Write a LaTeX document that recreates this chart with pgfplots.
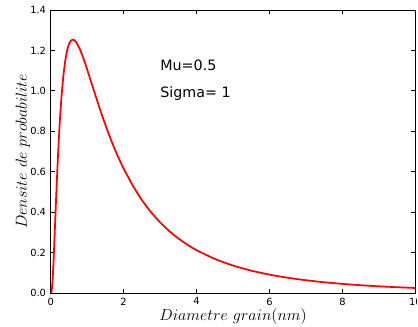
\documentclass[border=0pt]{standalone}
\usepackage{fontspec}
\setmainfont{DejaVu Sans}
\usepackage{pgfplots}
\pgfplotsset{compat=1.18}
\begin{document}
\begin{tikzpicture}
\useasboundingbox (0,0) rectangle (313.5pt,245.25pt);
\clip (0,0) rectangle (312.4pt,245.25pt);
\begin{axis}[
 at={(38.0pt,25.5pt)}, anchor=south west,
 scale only axis, width=273.6pt, height=212.25pt,
 xmin=0, xmax=10, ymin=0, ymax=1.4,
 xtick={0,2,4,6,8,10}, ytick={0,0.2,0.4,0.6,0.8,1.0,1.2,1.4},
 tick align=inside, major tick length=3pt, tick pos=both,
 /pgf/number format/assume math mode=true,
 yticklabel style={/pgf/number format/fixed, /pgf/number format/fixed zerofill, /pgf/number format/precision=1},
 tick label style={font=\fontsize{7.4}{8}\selectfont, text=black},
 xlabel={$Diametre\ grain(nm)$}, ylabel={$Densite\ de\ probabilite$},
 every axis x label/.style={at={(axis description cs:0.5,-0.098)}, anchor=base, font=\fontsize{12.2}{14}\selectfont},
 every axis y label/.style={at={(axis description cs:-0.065,0.5)}, anchor=base, rotate=90, font=\fontsize{12.4}{14}\selectfont},
 axis line style={line width=0.7pt},
 every tick/.style={black, line width=0.6pt},
]
\addplot[red, line width=1.3pt, smooth, tension=0.3] coordinates {
(0,0) (0.02,0.0037) (0.03,0.0137) (0.05,0.0557) (0.075,0.141) (0.1,0.2469) (0.15,0.4723) (0.2,0.6774) (0.25,0.8462) (0.3,0.9780) (0.35,1.0775) (0.4,1.1493) (0.45,1.1988) (0.5,1.2303) (0.55,1.2474) (0.6,1.2533) (0.65,1.2502) (0.7,1.2404) (0.8,1.2063) (0.9,1.1595) (1.0,1.1061) (1.1,1.0498) (1.2,0.9930) (1.3,0.9373) (1.4,0.8833) (1.5,0.8316) (1.6,0.7830) (1.7,0.7369) (1.8,0.6936) (1.9,0.6532) (2.0,0.6151) (2.25,0.5320) (2.5,0.4597) (2.75,0.3999) (3.0,0.3493) (3.25,0.3063) (3.5,0.2698) (3.75,0.2386) (4.0,0.2116) (4.5,0.1682) (5.0,0.1355) (5.5,0.1103) (6.0,0.0907) (6.5,0.0753) (7.0,0.0630) (7.5,0.0530) (8.0,0.0450) (8.5,0.0384) (9.0,0.0330) (9.5,0.0285) (10.0,0.0248)
};
\node[anchor=base west, inner sep=0pt, font=\fontsize{10.7}{12}\selectfont] at (axis cs:3,1.1) {Mu=0.5};
\node[anchor=base west, inner sep=0pt, font=\fontsize{10.7}{12}\selectfont] at (axis cs:3,0.965) {Sigma= 1};
\end{axis}
\end{tikzpicture}
\end{document}
